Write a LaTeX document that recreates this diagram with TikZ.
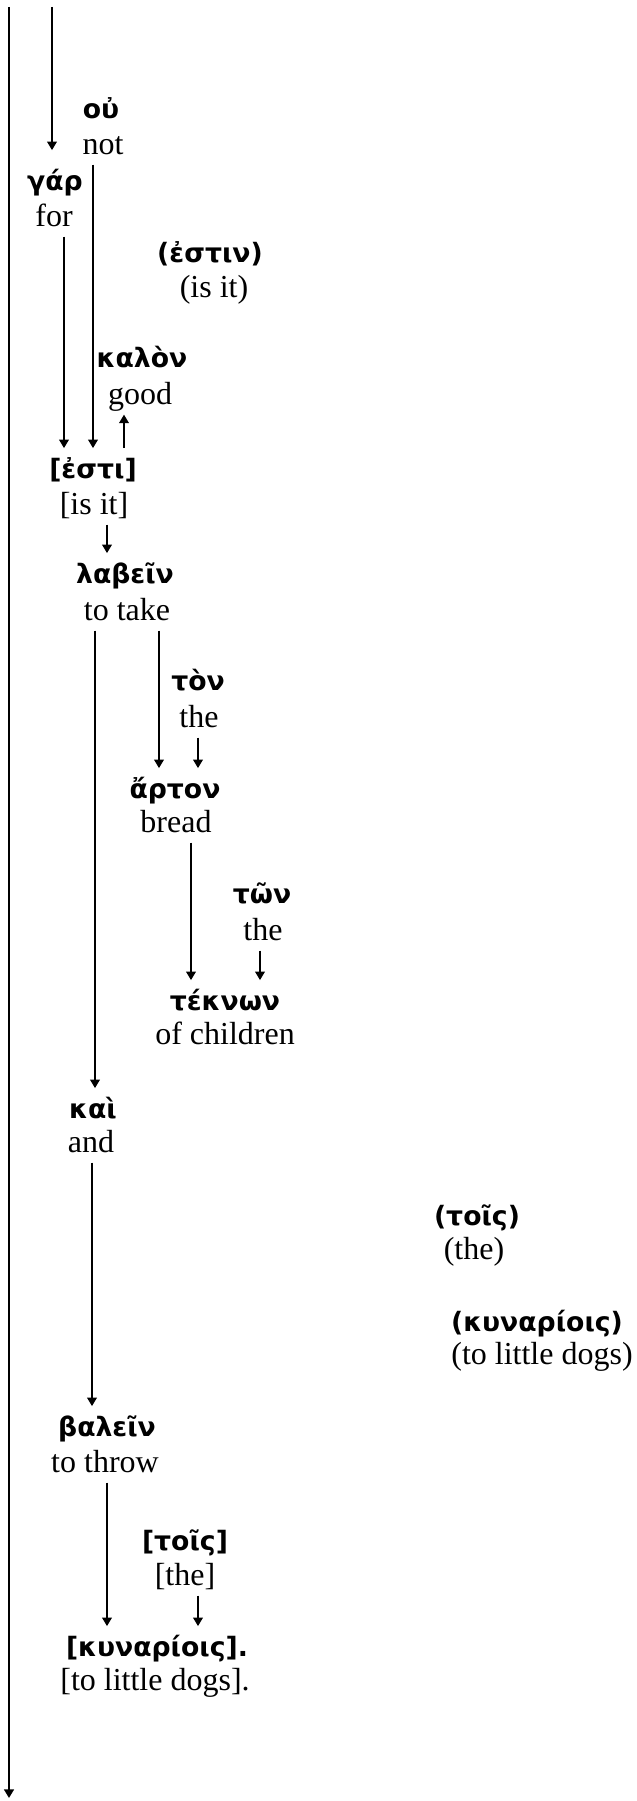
\documentclass[tikz,border=0pt]{standalone}
\usepackage{fontspec}
\setmainfont{Liberation Serif}
\newfontfamily\gkfont{DejaVu Sans}
\usetikzlibrary{arrows.meta,calc}

\begin{document}
\begin{tikzpicture}[x=0.375pt,y=-0.375pt]
\tikzset{
    gk/.style={font=\gkfont\bfseries\fontsize{10}{12}\selectfont, text height=9pt, text depth=3pt, inner xsep=0pt, inner ysep=2pt},
    en/.style={font=\fontsize{12}{14}\selectfont, text height=8pt, text depth=2.5pt, inner xsep=0pt, inner ysep=1.15pt},
    arr/.style={line width=0.7pt, -{Triangle[length=3.2pt,width=3.6pt]}},
}
\useasboundingbox (0,0) rectangle (637,1801);
% link from the gloss of #1 down to the word #2, #3 = x offset
\def\down(#1,#2,#3){\draw[arr] ($(#1.south)+(#3,0)$) coordinate (from) -- (from |- #2.north);}

% The spine and the arrow coming in from above.
\coordinate (spinetop) at (9,7);
\coordinate (spinebot) at (9,1798);
\coordinate (incoming) at (52,7);
\draw[arr, line width=0.8pt] (spinetop) -- (spinebot);

% Words: Greek above, English gloss below.
\node[gk] (ou)      at (101,111)  {οὐ};
\node[en] (not)     at (103,147)  {not};
\node[gk] (gar)     at (55,183)   {γάρ};
\node[en] (for)     at (54,219)   {for};
\node[gk] (estin)   at (210,255)  {(ἐστιν)};
\node[en] (isit)    at (214,290)  {(is it)};
\node[gk] (kalon)   at (142,360)  {καλὸν};
\node[en] (good)    at (140,397)  {good};
\node[gk] (esti)    at (93,470)   {[ἐστι]};
\node[en] (isitb)   at (94,507)   {[is it]};
\node[gk] (labein)  at (125,575)  {λαβεῖν};
\node[en] (totake)  at (127,613)  {to take};
\node[gk] (ton)     at (198,682)  {τὸν};
\node[en] (the)     at (199,720)  {the};
\node[gk] (arton)   at (175,790)  {ἄρτον};
\node[en] (bread)   at (176,825)  {bread};
\node[gk] (twn)     at (262,895)  {τῶν};
\node[en] (theb)    at (263,933)  {the};
\node[gk] (teknwn)  at (225,1002) {τέκνων};
\node[en] (ofchild) at (225,1037) {of children};
\node[gk] (kai)     at (93,1110)  {καὶ};
\node[en] (and)     at (91,1145)  {and};
\node[gk] (tois)    at (477,1217) {(τοῖς)};
\node[en] (thec)    at (474,1252) {(the)};
\node[gk] (kunar)   at (537,1323) {(κυναρίοις)};
\node[en] (dogs)    at (542,1357) {(to little dogs)};
\node[gk] (balein)  at (107,1428) {βαλεῖν};
\node[en] (throw)   at (105,1465) {to throw};
\node[gk] (toisb)   at (185,1542) {[τοῖς]};
\node[en] (thed)    at (185,1578) {[the]};
\node[gk] (kunarb)  at (157,1648) {[κυναρίοις].};
\node[en] (dogsb)   at (155,1683) {[to little dogs].};

% Links between them.
\draw[arr] (incoming) -- ($(incoming |- gar.north)+(0,-11)$);
\down(not,esti,-10)
\down(for,esti,10)
\draw[arr] ($(esti.north)+(31,0)$) coordinate (from) -- (from |- good.south);
\down(isitb,labein,13)
\down(totake,arton,32)
\down(totake,kai,-32)
\down(the,arton,-1)
\down(bread,teknwn,15)
\down(theb,teknwn,-3)
\down(and,balein,1)
\down(throw,kunarb,2)
\down(thed,kunarb,13)
\end{tikzpicture}
\end{document}
